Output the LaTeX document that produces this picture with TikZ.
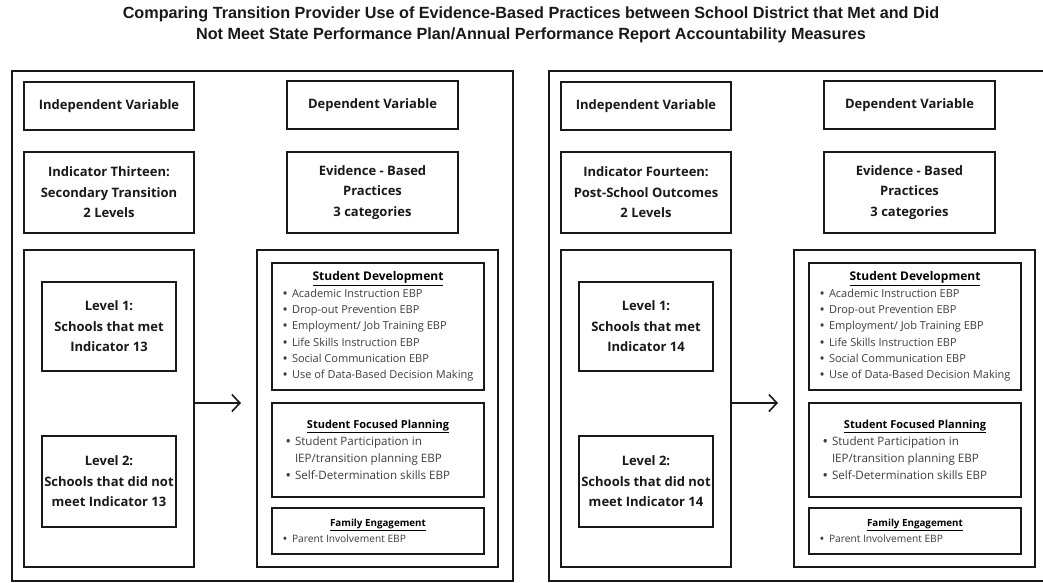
\documentclass[tikz,border=0pt]{standalone}
\usepackage{fontspec}
\setmainfont{Open Sans}
\newfontfamily\titlefont{Liberation Sans}
\usetikzlibrary{arrows.meta}
\definecolor{itemgray}{RGB}{62,62,62}
\definecolor{linec}{RGB}{25,25,25}
\newcommand{\itm}[2]{\makebox[#1][l]{\makebox[9pt][l]{\bfseries\textbullet}#2}}
\newcommand{\itc}[2]{\makebox[#1][l]{\hspace{9pt}#2}}
\newcommand{\hd}[2]{{\color{black}\bfseries\fontsize{#1}{16}\selectfont\underline{#2}}}
\tikzset{
  panel/.style={draw=linec, line width=1.5pt, inner sep=0pt},
  bx/.style={draw=linec, line width=2.2pt, align=center, inner sep=0pt, text=black!90,
    font=\bfseries\fontsize{13}{20.5}\selectfont},
  lst/.style={draw=linec, line width=2.2pt, align=center, inner sep=0pt, text=itemgray,
    font=\fontsize{11}{16.3}\selectfont},
  arr/.style={-{Straight Barb[length=8pt,width=17pt,line width=1.6pt]}, line width=1.6pt, draw=linec}
}
\newcommand{\mypanel}[4]{%
\begin{scope}[xshift=#2]
  \node[panel, minimum width=501pt, minimum height=510pt] (#1outer) at (262.5,326) {};
  \node[bx, minimum width=170pt, minimum height=48pt] (#1iv) at (109,106) {Independent Variable};
  \node[bx, minimum width=171pt, minimum height=48pt] (#1dv) at (372.5,105) {Dependent Variable};
  \node[bx, minimum width=170pt, minimum height=81pt] (#1ind) at (109,192.5) {#3};
  \node[bx, minimum width=171pt, minimum height=81pt] (#1ev) at (372.5,192.5) {Evidence - Based\\Practices\\3 categories};
  \node[panel, line width=2pt, minimum width=170pt, minimum height=317pt] (#1lv) at (109,408.5) {};
  \node[panel, line width=2pt, minimum width=241pt, minimum height=317pt] (#1ebp) at (377.5,408.5) {};
  \node[bx, minimum width=134pt, minimum height=89pt] (#1l1) at (109,326.5) {Level 1:\\Schools that met\\Indicator #4};
  \node[bx, minimum width=134pt, minimum height=91pt] (#1l2) at (109,481.5) {Level 2:\\Schools that did not\\meet Indicator #4};
  \node[lst, minimum width=212pt, minimum height=127pt] (#1sd) at (378,326.5) {%
    \hd{12}{Student Development}\\
    \itm{190pt}{Academic Instruction EBP}\\
    \itm{190pt}{Drop-out Prevention EBP}\\
    \itm{190pt}{Employment/ Job Training EBP}\\
    \itm{190pt}{Life Skills Instruction EBP}\\
    \itm{190pt}{Social Communication EBP}\\
    \itm{190pt}{Use of Data-Based Decision Making}};
  \node[lst, minimum width=212pt, minimum height=94pt, font=\fontsize{11.6}{17}\selectfont] (#1sfp) at (378,450) {%
    \hd{11}{Student Focused Planning}\\
    \itm{184pt}{Student Participation in}\\
    \itc{184pt}{IEP/transition planning EBP}\\
    \itm{184pt}{Self-Determination skills EBP}};
  \node[lst, minimum width=212pt, minimum height=46pt, font=\fontsize{10.2}{15.5}\selectfont] (#1fe) at (378,531) {%
    \hd{9.8}{Family Engagement}\\
    \itm{190pt}{Parent Involvement EBP}};
  \draw[arr] ([yshift=5.5pt]#1lv.east) -- ([xshift=-15pt,yshift=5.5pt]#1ebp.west);
\end{scope}}
\begin{document}
\begin{tikzpicture}[x=1pt,y=-1pt]
  \useasboundingbox (0,0) rectangle (1043,583);
  \clip (0,0) rectangle (1043,583);
  \fill[white] (0,0) rectangle (1043,583);
  \node[align=center, font=\titlefont\bfseries\fontsize{16.2}{21}\selectfont, text=black!90] (title) at (531,25)
    {Comparing Transition Provider Use of Evidence-Based Practices between School District that Met and Did\\
     Not Meet State Performance Plan/Annual Performance Report Accountability Measures};
  \mypanel{a}{0pt}{Indicator Thirteen:\\Secondary Transition\\2 Levels}{13}
  \mypanel{b}{537pt}{Indicator Fourteen:\\Post-School Outcomes\\2 Levels}{14}
\end{tikzpicture}
\end{document}
